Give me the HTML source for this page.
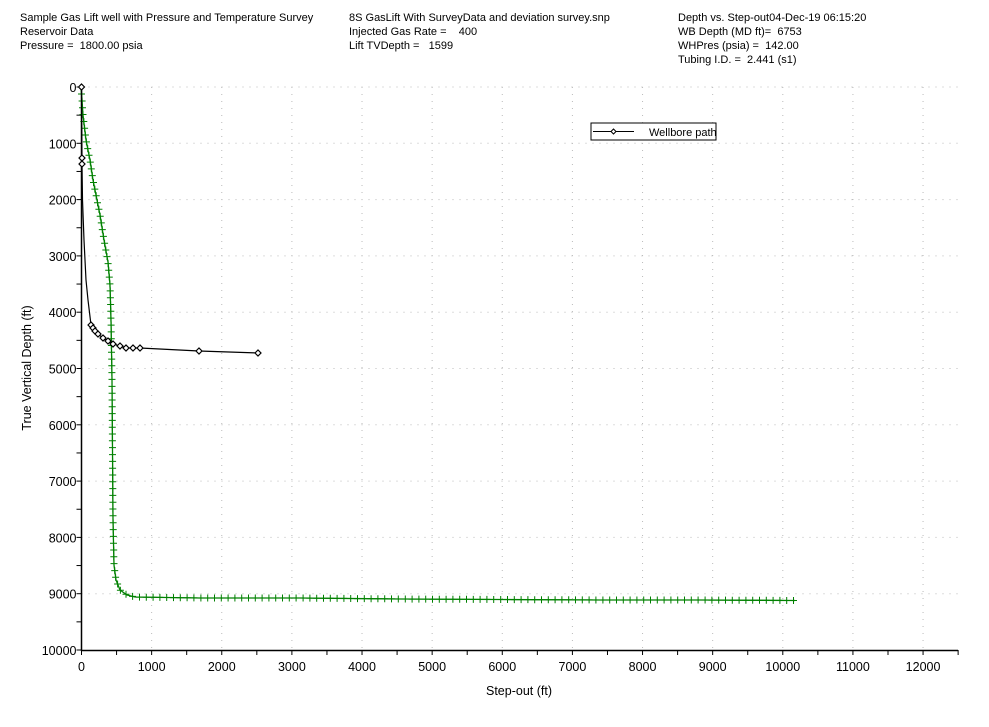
<!DOCTYPE html>
<html><head><meta charset="utf-8"><style>
body{margin:0;background:#fff;}
svg{display:block;font-family:"Liberation Sans",sans-serif;}
text{white-space:pre;}
</style></head><body>
<svg id="s" width="989" height="727" xmlns="http://www.w3.org/2000/svg" xml:space="preserve">
<g font-size="11" fill="#000">
<text x="20" y="21">Sample Gas Lift well with Pressure and Temperature Survey</text>
<text x="20" y="35">Reservoir Data</text>
<text x="20" y="49">Pressure =  1800.00 psia</text>
<text x="349" y="21">8S GasLift With SurveyData and deviation survey.snp</text>
<text x="349" y="35">Injected Gas Rate =    400</text>
<text x="349" y="49">Lift TVDepth =   1599</text>
<text x="678" y="21">Depth vs. Step-out04-Dec-19 06:15:20</text>
<text x="678" y="35">WB Depth (MD ft)=  6753</text>
<text x="678" y="49">WHPres (psia) =  142.00</text>
<text x="678" y="63">Tubing I.D. =  2.441 (s1)</text>
</g>
<g id="grid" stroke="#bbb" stroke-dasharray="1,6" stroke-width="1"></g>
<g id="axes" stroke="#000" stroke-width="1.5"></g>
<g id="lbl" font-size="12.5" fill="#000"></g>
<text x="519" y="695" font-size="12.5" text-anchor="middle">Step-out (ft)</text>
<text transform="translate(31,368) rotate(-90)" font-size="12.5" text-anchor="middle">True Vertical Depth (ft)</text>
<g id="green" stroke="#008000" stroke-width="1.3" fill="none"></g>
<g id="black" stroke="#000" stroke-width="1.2" fill="none"></g>
<rect x="591" y="123" width="125" height="17" fill="#fff" stroke="#000"/>
<line x1="593" y1="131.5" x2="634" y2="131.5" stroke="#000"/>
<path d="M611 131.5l2.5-2.5 2.5 2.5-2.5 2.5z" fill="#fff" stroke="#000"/>
<text x="649" y="136" font-size="11">Wellbore path</text>
</svg>
<script>
const NS="http://www.w3.org/2000/svg";
function el(p,t,a,txt){const e=document.createElementNS(NS,t);for(const k in a)e.setAttribute(k,a[k]);if(txt!=null)e.textContent=txt;document.getElementById(p).appendChild(e);return e;}
const X0=81.5,XS=0.07013,Y0=87,YS=0.0563;
for(let i=1;i<=12;i++){const x=X0+i*1000*XS;el("grid","line",{x1:x,y1:Y0,x2:x,y2:650});}
for(let j=0;j<10;j++){const y=Y0+j*1000*YS;el("grid","line",{x1:X0,y1:y,x2:960,y2:y});}
el("axes","line",{x1:X0,y1:Y0-2,x2:X0,y2:651});
el("axes","line",{x1:X0,y1:650.5,x2:958,y2:650.5});
for(let i=0;i<=25;i++){const x=X0+i*500*XS;el("axes","line",{x1:x,y1:650,x2:x,y2:655,"stroke-width":1});
 if(i%2==0)el("lbl","text",{x:x,y:671,"text-anchor":"middle"},String(i*500));}
for(let j=0;j<=20;j++){const y=Y0+j*500*YS;el("axes","line",{x1:X0-5,y1:y,x2:X0,y2:y,"stroke-width":1});
 if(j%2==0)el("lbl","text",{x:X0-5,y:y+5,"text-anchor":"end"},String(j*500));}
const g=[[81,87],[82,100],[83,115],[86,140],[90,160],[93,180],[97,200],[100,215],[104,240],[108,262],[110,285],[111,320],[112,380],[112.5,450],[113,520],[114,565],[116,580],[120,590],[127,595],[135,597],[200,598],[300,598],[400,599],[500,599.5],[600,600],[700,600],[795,600.5]];
el("green","path",{d:"M"+g.map(p=>p.join(" ")).join("L")});
let acc=0,cd=`M${g[0][0]-3} ${g[0][1]}h6M${g[0][0]} ${g[0][1]-3}v6`;
for(let i=1;i<g.length;i++){const [x1,y1]=g[i-1],[x2,y2]=g[i];const L=Math.hypot(x2-x1,y2-y1);let t=7-acc;
 while(t<=L){const x=x1+(x2-x1)*t/L,y=y1+(y2-y1)*t/L;cd+=`M${(x-3.5).toFixed(1)} ${y.toFixed(1)}h7M${x.toFixed(1)} ${(y-3.5).toFixed(1)}v7`;t+=6.8;}
 acc=L-(t-6.8);}
el("green","path",{d:cd,"stroke-width":1});
const b=[[81.5,87],[82,158],[82,164],[82.5,200],[84,240],[86,280],[88,300],[91,325],[93,328],[95,331],[98,334],[103,338],[108,341],[113,344],[120,346],[126,348],[133,348],[140,348],[199,351],[258,353]];
el("black","path",{d:"M"+b.map(p=>p.join(" ")).join("L")});
const mk=[[81.5,87],[82,158],[82,164],...b.slice(7)];
mk.forEach(([x,y])=>el("black","path",{d:`M${x-3} ${y}l3-3 3 3-3 3z`,fill:"#fff"}));
</script>
</body></html>
